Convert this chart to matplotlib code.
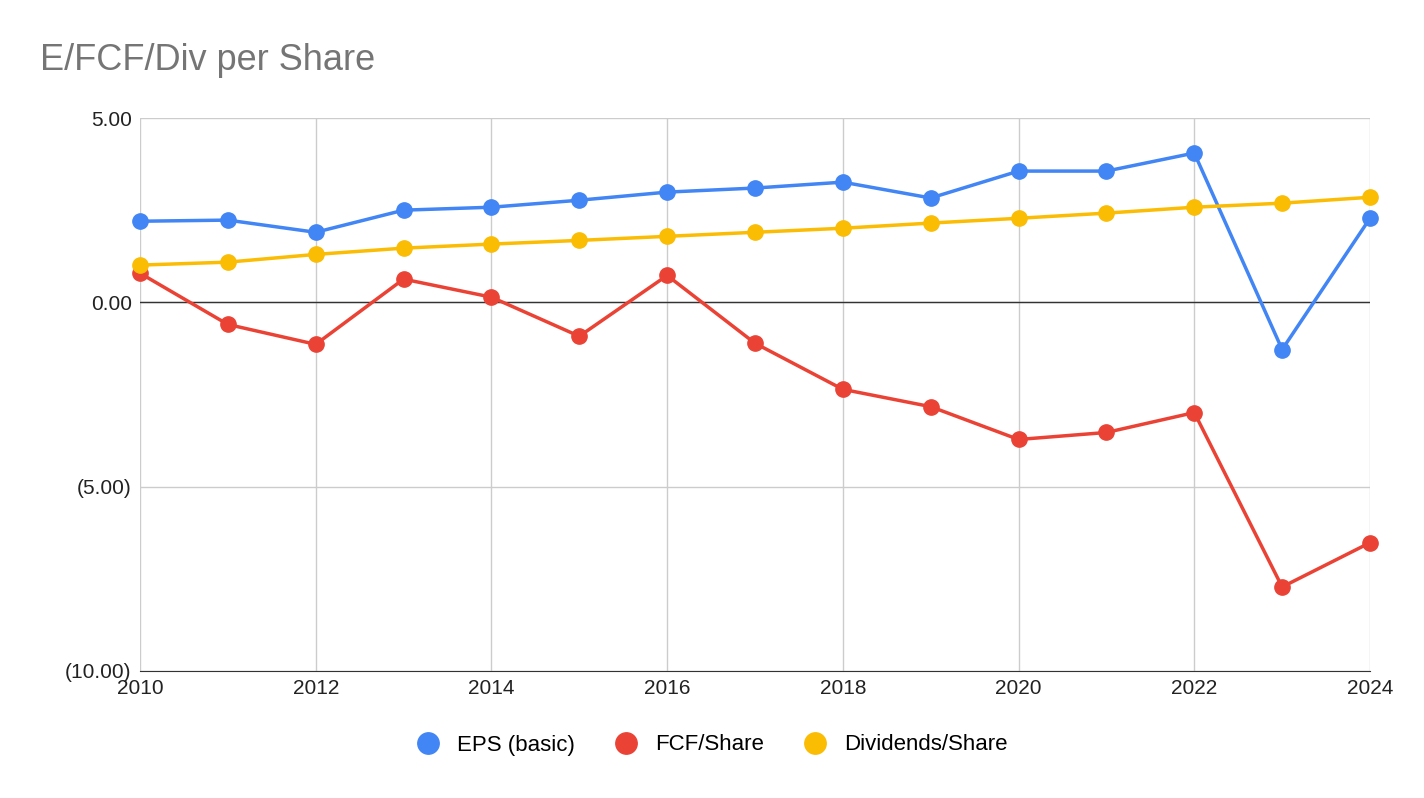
import matplotlib
matplotlib.use("Agg")
import matplotlib.pyplot as plt
from matplotlib.ticker import FuncFormatter

years = list(range(2010, 2025))
eps = [2.20, 2.23, 1.90, 2.50, 2.58, 2.77, 2.99, 3.10, 3.26, 2.83, 3.56, 3.56, 4.05, -1.28, 2.28]
fcf = [0.79, -0.60, -1.14, 0.63, 0.14, -0.92, 0.73, -1.11, -2.36, -2.83, -3.72, -3.53, -2.99, -7.72, -6.52]
div = [1.01, 1.09, 1.30, 1.47, 1.58, 1.68, 1.79, 1.90, 2.01, 2.15, 2.28, 2.42, 2.58, 2.69, 2.85]

plt.rcParams['font.family'] = ['Liberation Sans', 'DejaVu Sans']
fig = plt.figure(figsize=(14.24, 7.98), dpi=100)
ax = fig.add_axes([140/1424, 1-671/798, 1230/1424, 553/798])

for vals, c, lab in [(eps, '#4285F4', 'EPS (basic)'), (fcf, '#EA4335', 'FCF/Share'), (div, '#FBBC04', 'Dividends/Share')]:
    ax.plot(years, vals, color=c, lw=2.5, marker='o', ms=11, label=lab, zorder=3, clip_on=False)

ax.set_xlim(2010, 2024)
ax.set_ylim(-10, 5)
ax.set_xticks(range(2010, 2025, 2))
ax.set_yticks([-10, -5, 0, 5])
ax.yaxis.set_major_formatter(FuncFormatter(lambda v, p: f"({abs(v):.2f})" if v < 0 else f"{v:.2f}"))
ax.grid(True, color='#cccccc', lw=1)
ax.axhline(0, color='#333333', lw=1, zorder=2)
for s in ax.spines.values():
    s.set_visible(False)
ax.spines['bottom'].set_visible(True)
ax.spines['bottom'].set_color('#333333')
ax.tick_params(length=0, labelsize=15, colors='#222222', pad=6)
ax.set_axisbelow(True)

fig.text(40/1424, 1-60/798, 'E/FCF/Div per Share', fontsize=26, color='#757575', va='center')
fig.legend(loc='center', bbox_to_anchor=(0.5, 1-745/798), ncol=3, frameon=False,
           fontsize=16, handlelength=1, markerscale=1.4, columnspacing=1.8)
leg = fig.legends[0]
for h in leg.legend_handles:
    h.set_linestyle('None')
fig.savefig('out.png', dpi=100)
